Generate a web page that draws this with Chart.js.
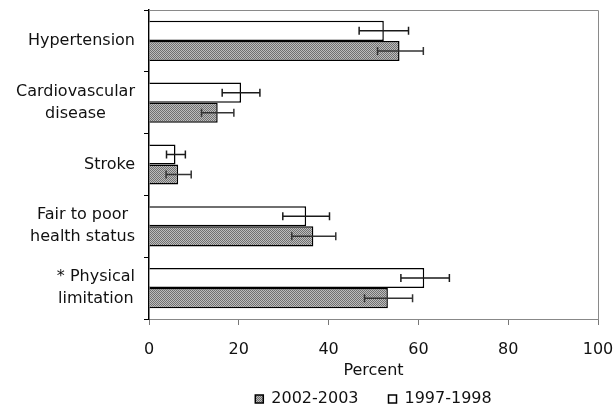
<!DOCTYPE html>
<html>
<head>
<meta charset="utf-8">
<script src="https://cdn.jsdelivr.net/npm/chart.js@4/dist/chart.umd.min.js"></script>
<style>
  html, body { margin: 0; padding: 0; background: #fff; }
  #wrap { width: 616px; height: 406px; }
</style>
</head>
<body>
<div id="wrap"><canvas id="chart"></canvas></div>
<script>
// ================= DATA =================
const categories = [
  ["Hypertension"],
  ["Cardiovascular", "disease"],
  ["Stroke"],
  ["Fair to poor", "health status"],
  ["* Physical", "limitation"]
];
const values9798 = [52.3, 20.5, 5.9, 35.0, 61.3];
const low9798 = [46.8, 16.3, 3.9, 29.8, 56.1];
const high9798 = [57.8, 24.7, 8.1, 40.2, 66.9];
const values0203 = [55.8, 15.3, 6.5, 36.6, 53.2];
const low0203 = [50.9, 11.7, 3.8, 31.8, 48.0];
const high0203 = [61.1, 18.9, 9.4, 41.6, 58.7];
const xTicks = [0, 20, 40, 60, 80, 100];

const FONT = "'DejaVu Sans', sans-serif";
const TEXT = "#111";

// ================= PATTERN =================
function makeDither() {
  const tile = document.createElement("canvas");
  tile.width = 2;
  tile.height = 2;
  const g = tile.getContext("2d");
  g.fillStyle = "#bdbdbd";
  g.fillRect(0, 0, 2, 2);
  g.fillStyle = "#707070";
  g.fillRect(0, 0, 1, 1);
  g.fillRect(1, 1, 1, 1);
  return g.createPattern(tile, "repeat");
}
const dither = makeDither();

// ================= PLUGINS =================
const errorBars = {
  id: "errorBars",
  afterDatasetsDraw(chart) {
    const ctx = chart.ctx;
    const x = chart.scales.x;
    const ranges = [[low9798, high9798, "#1a1a1a"], [low0203, high0203, "#333"]];
    ctx.save();
    ctx.lineWidth = 1.5;
    ranges.forEach(([lo, hi, color], d) => {
      ctx.strokeStyle = color;
      chart.getDatasetMeta(d).data.forEach((bar, i) => {
        const x1 = x.getPixelForValue(lo[i]);
        const x2 = x.getPixelForValue(hi[i]);
        const y = bar.y;
        ctx.beginPath();
        ctx.moveTo(x1, y); ctx.lineTo(x2, y);
        ctx.moveTo(x1, y - 4); ctx.lineTo(x1, y + 4);
        ctx.moveTo(x2, y - 4); ctx.lineTo(x2, y + 4);
        ctx.stroke();
      });
    });
    ctx.restore();
  }
};

const frameAndLabels = {
  id: "frameAndLabels",
  afterDraw(chart) {
    const ctx = chart.ctx;
    const a = chart.chartArea;
    const y = chart.scales.y;
    ctx.save();
    // top + right frame
    ctx.strokeStyle = "#8a8a8a";
    ctx.lineWidth = 1;
    ctx.beginPath();
    ctx.moveTo(a.left, a.top + 0.5);
    ctx.lineTo(a.right + 0.5, a.top + 0.5);
    ctx.lineTo(a.right + 0.5, a.bottom);
    ctx.stroke();

    // category labels: block right-aligned, lines centred
    ctx.font = "16px " + FONT;
    ctx.fillStyle = TEXT;
    ctx.textBaseline = "middle";
    ctx.textAlign = "center";
    categories.forEach((lines, i) => {
      const cy = y.getPixelForValue(i);
      const w = Math.max(...lines.map(l => ctx.measureText(l).width));
      const cx = y.right - 14 - w / 2;
      lines.forEach((line, j) => {
        ctx.fillText(line, cx, cy + (j - (lines.length - 1) / 2) * 22);
      });
    });
    ctx.restore();
  }
};

// ================= CHART =================
new Chart(document.getElementById("chart"), {
  type: "bar",
  data: {
    labels: categories.map(c => c.join(" ")),
    datasets: [
      {
        label: "1997-1998",
        data: values9798,
        backgroundColor: "#ffffff",
        borderColor: "#000",
        borderWidth: 1.5
      },
      {
        label: "2002-2003",
        data: values0203,
        backgroundColor: dither,
        borderColor: "#000",
        borderWidth: 1.5
      }
    ]
  },
  options: {
    indexAxis: "y",
    responsive: true,
    maintainAspectRatio: false,
    animation: false,
    devicePixelRatio: 1,
    datasets: { bar: { categoryPercentage: 0.65, barPercentage: 1.0 } },
    layout: { padding: { top: 10, right: 18, bottom: -11, left: 0 } },
    scales: {
      x: {
        min: 0,
        max: 100,
        afterBuildTicks: s => { s.ticks = xTicks.map(v => ({ value: v })); },
        grid: { drawOnChartArea: false, drawTicks: true, tickLength: 6, color: "#777" },
        border: { color: "#888", width: 1 },
        ticks: { font: { family: FONT, size: 16 }, color: TEXT, padding: 15 },
        title: {
          display: true,
          text: "Percent",
          font: { family: FONT, size: 16 },
          color: TEXT,
          padding: { top: 3, bottom: -19.4 }
        },
        afterFit: s => {
          s.height = 42;
          s.paddingLeft = 0;
          s.paddingRight = 0;
        }
      },
      y: {
        grid: { offset: true, drawOnChartArea: false, drawTicks: true, tickLength: 5, color: "#000" },
        border: { color: "#000", width: 1.5 },
        ticks: { display: false },
        afterFit: s => { s.width = 149; }
      }
    },
    plugins: {
      legend: {
        position: "bottom",
        fullSize: false,
        reverse: true,
        labels: {
          font: { family: FONT, size: 16 },
          color: TEXT,
          boxWidth: 8,
          boxHeight: 8,
          padding: 30
        }
      },
      tooltip: { enabled: false }
    }
  },
  plugins: [errorBars, frameAndLabels]
});
</script>
</body>
</html>
